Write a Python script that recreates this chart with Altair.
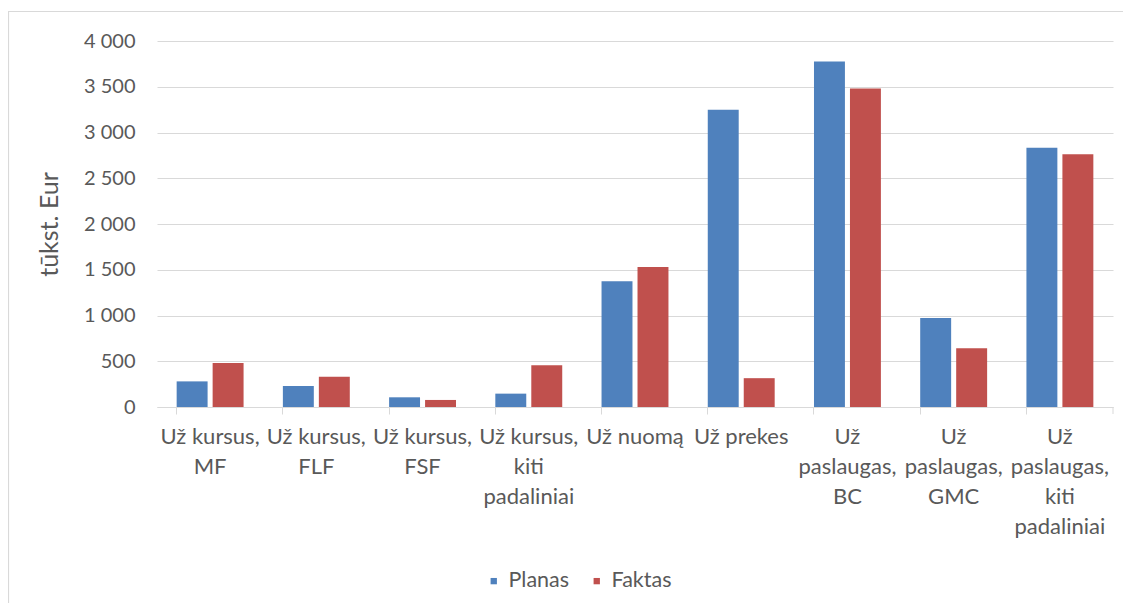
import altair as alt
import pandas as pd

categories = [
    "Už kursus,\nMF",
    "Už kursus,\nFLF",
    "Už kursus,\nFSF",
    "Už kursus,\nkiti\npadaliniai",
    "Už nuomą",
    "Už prekes",
    "Už\npaslaugas,\nBC",
    "Už\npaslaugas,\nGMC",
    "Už\npaslaugas,\nkiti\npadaliniai",
]
series = ["Planas", "Faktas"]
planas = [280, 230, 106, 146, 1375, 3250, 3775, 972, 2832]
faktas = [481, 331, 77, 456, 1530, 315, 3482, 642, 2763]
y_ticks = [0, 500, 1000, 1500, 2000, 2500, 3000, 3500, 4000]
colors = ["#4F81BD", "#C0504D"]

rows = []
for c, p, f in zip(categories, planas, faktas):
    rows.append({"category": c, "series": "Planas", "value": p})
    rows.append({"category": c, "series": "Faktas", "value": f})
df = pd.DataFrame(rows)

W, H = 956, 366
PAD = {"left": 149, "top": 33, "right": 10, "bottom": 196}
FONT = "Lato"
TXT = "#595959"
GRID = "#D9D9D9"

bars = alt.Chart(df).mark_bar().encode(
    x=alt.X(
        "category:N",
        sort=categories,
        scale=alt.Scale(paddingInner=0.37, paddingOuter=0.185),
        axis=alt.Axis(
            title=None,
            labelAngle=0,
            labelExpr="split(datum.label, '\\n')",
            labelLineHeight=30,
            labelFont=FONT,
            labelFontSize=22,
            labelColor=TXT,
            labelPadding=12,
            labelOverlap=False,
            labelLimit=220,
            bandPosition=0,
            tickSize=7,
            tickColor=GRID,
            domainColor=GRID,
            grid=False,
        ),
    ),
    xOffset=alt.XOffset("series:N", sort=series, scale=alt.Scale(paddingInner=0.14)),
    y=alt.Y(
        "value:Q",
        scale=alt.Scale(domain=[0, 4000], nice=False),
        axis=alt.Axis(
            title="tūkst. Eur",
            values=y_ticks,
            labelExpr="replace(format(datum.value, ','), ',', ' ')",
            labelFont=FONT,
            labelFontSize=20,
            labelColor=TXT,
            labelPadding=22,
            ticks=False,
            domain=False,
            grid=True,
            gridColor=GRID,
            gridWidth=1.2,
            titleFont=FONT,
            titleFontSize=25,
            titleFontWeight="normal",
            titleColor=TXT,
            titlePadding=21,
        ),
    ),
    color=alt.Color(
        "series:N",
        sort=series,
        scale=alt.Scale(domain=series, range=colors),
        legend=alt.Legend(
            title=None,
            orient="none",
            legendX=326,
            legendY=529,
            direction="horizontal",
            symbolType="square",
            symbolSize=40,
            symbolStrokeWidth=0,
            labelFont=FONT,
            labelFontSize=21.5,
            labelColor=TXT,
            labelOffset=4,
            columnPadding=16,
            padding=0,
        ),
    ),
)

frame = alt.Chart(alt.Data(values=[{}])).mark_rect(
    fill="transparent", stroke=GRID, strokeWidth=1.2
).encode(
    x=alt.value(-148.5),
    x2=alt.value(W + PAD["right"] + 10),
    y=alt.value(-29.5),
    y2=alt.value(H + PAD["bottom"] + 10),
)

end_tick = alt.Chart(alt.Data(values=[{}])).mark_rule(
    color=GRID, strokeWidth=1
).encode(
    x=alt.value(W),
    y=alt.value(H),
    y2=alt.value(H + 7),
)

chart = (
    alt.layer(frame, bars, end_tick)
    .properties(
        width=W,
        height=H,
        padding=PAD,
        autosize=alt.AutoSizeParams(type="none"),
        background="white",
    )
    .configure_view(stroke=None)
)

chart.save("out.html", embed_options={"renderer": "svg", "actions": False})
